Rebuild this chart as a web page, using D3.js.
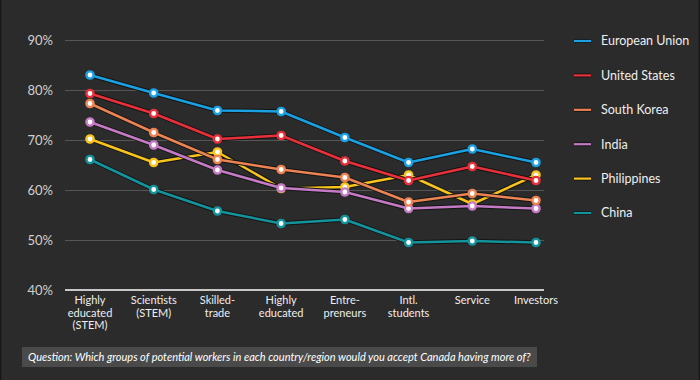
<!DOCTYPE html>
<html>
<head>
<meta charset="utf-8">
<script src="https://cdn.jsdelivr.net/npm/d3@7"></script>
<style>
  body { margin: 0; background: #2b2b2b; }
  svg { display: block; font-family: Lato, "Open Sans", sans-serif; }
</style>
</head>
<body>
<div id="chart"></div>
<script>
// Data
var categories = ["Highly educated (STEM)", "Scientists (STEM)", "Skilled-trade", "Highly educated",
    "Entre-preneurs", "Intl. students", "Service", "Investors"];
var categoryLines = [
    ["Highly", "educated", "(STEM)"],
    ["Scientists", "(STEM)"],
    ["Skilled-", "trade"],
    ["Highly", "educated"],
    ["Entre-", "preneurs"],
    ["Intl.", "students"],
    ["Service"],
    ["Investors"]
];
var seriesNames = ["European Union", "United States", "South Korea", "India", "Philippines", "China"];
var euValues = [83.0, 79.4, 75.9, 75.7, 70.5, 65.5, 68.2, 65.5];
var usValues = [79.3, 75.3, 70.2, 70.9, 65.8, 61.9, 64.7, 61.9];
var skValues = [77.3, 71.5, 66.1, 64.1, 62.5, 57.6, 59.3, 57.9];
var indiaValues = [73.6, 69.0, 64.0, 60.4, 59.6, 56.3, 56.8, 56.3];
var philValues = [70.2, 65.5, 67.6, 60.3, 60.6, 63.0, 57.2, 63.0];
var chinaValues = [66.1, 60.1, 55.8, 53.3, 54.1, 49.5, 49.8, 49.5];
var yTicks = [40, 50, 60, 70, 80, 90];
var question = "Question: Which groups of potential workers in each country/region would you accept Canada having more of?";

var colors = ["#1ba1e2", "#e8303a", "#ec8353", "#c47bc4", "#f8c31c", "#14939c"];
var allValues = [euValues, usValues, skValues, indiaValues, philValues, chinaValues];

var series = seriesNames.map(function(name, i) {
    return { name: name, color: colors[i], values: allValues[i] };
});

// Set up the chart
var svgWidth = 700;
var svgHeight = 380;

var svg = d3.select("#chart")
    .append("svg")
    .attr("width", svgWidth)
    .attr("height", svgHeight);

svg.append("rect")
    .attr("width", svgWidth)
    .attr("height", svgHeight)
    .attr("fill", "#2b2b2b");

// thin dark frame on the sides
svg.append("rect")
    .attr("x", 0.5).attr("y", -2)
    .attr("width", svgWidth - 1)
    .attr("height", svgHeight + 4)
    .attr("fill", "none")
    .attr("stroke", "#161616")
    .attr("stroke-width", 1.5);

var plotLeft = 65, plotRight = 544;

var xScale = d3.scalePoint()
    .domain(categories)
    .range([90, 536]);

var yScale = d3.scaleLinear()
    .domain([40, 90])
    .range([290, 40]);

// gridlines
var grid = svg.append("g")
    .attr("transform", "translate(" + plotLeft + ",0)")
    .call(d3.axisLeft(yScale).tickValues(yTicks).tickSize(-(plotRight - plotLeft)).tickFormat(""));
grid.select(".domain").remove();
grid.selectAll(".tick line").attr("stroke", "#555").attr("stroke-width", 1.2);

// y labels
svg.append("g")
    .selectAll("text")
    .data(yTicks)
    .enter()
    .append("text")
    .attr("x", 53)
    .attr("y", function(d) { return yScale(d); })
    .attr("dy", "0.35em")
    .attr("text-anchor", "end")
    .attr("fill", "#d0d0d0")
    .style("font-size", "13px")
    .text(function(d) { return d + "%"; });

// baseline
svg.append("line")
    .attr("x1", plotLeft).attr("x2", plotRight)
    .attr("y1", yScale(40)).attr("y2", yScale(40))
    .attr("stroke", "#c8c8c8")
    .attr("stroke-width", 2);

// x labels, one text per line
var xLabelGroups = svg.append("g")
    .selectAll("g")
    .data(categories)
    .enter()
    .append("g")
    .attr("transform", function(d) { return "translate(" + xScale(d) + ",0)"; });

xLabelGroups.selectAll("text")
    .data(function(d, i) { return categoryLines[i]; })
    .enter()
    .append("text")
    .attr("y", function(d, i) { return 304 + i * 12.5; })
    .attr("text-anchor", "middle")
    .attr("fill", "#eeeeee")
    .style("font-size", "11px")
    .text(function(d) { return d; });

// lines
var line = d3.line()
    .x(function(d, i) { return xScale(categories[i]); })
    .y(function(d) { return yScale(d); });

var drawOrder = series.slice().reverse();

var seriesGroup = svg.selectAll(".series")
    .data(drawOrder)
    .enter()
    .append("g")
    .attr("class", "series");

seriesGroup.append("path")
    .attr("d", function(d) { return line(d.values); })
    .attr("fill", "none")
    .attr("stroke", "#141414")
    .attr("stroke-width", 4.5)
    .attr("stroke-linejoin", "round");

seriesGroup.append("path")
    .attr("d", function(d) { return line(d.values); })
    .attr("fill", "none")
    .attr("stroke", function(d) { return d.color; })
    .attr("stroke-width", 2.5)
    .attr("stroke-linejoin", "round");

seriesGroup.selectAll("circle.dot")
    .data(function(d) { return d.values.map(function(v, i) { return { v: v, i: i, color: d.color }; }); })
    .enter()
    .append("circle")
    .attr("class", "dot")
    .attr("cx", function(d) { return xScale(categories[d.i]); })
    .attr("cy", function(d) { return yScale(d.v); })
    .attr("r", 3.6)
    .attr("fill", "#fff")
    .attr("stroke", function(d) { return d.color; })
    .attr("stroke-width", 2.4);

// legend
var legend = svg.append("g")
    .selectAll("g")
    .data(series)
    .enter()
    .append("g")
    .attr("transform", function(d, i) { return "translate(574," + (41 + i * 34.4) + ")"; });

legend.append("line")
    .attr("x1", 0).attr("x2", 17)
    .attr("stroke", "#141414")
    .attr("stroke-width", 4);

legend.append("line")
    .attr("x1", 0).attr("x2", 17)
    .attr("stroke", function(d) { return d.color; })
    .attr("stroke-width", 2.2);

legend.append("text")
    .attr("x", 27)
    .attr("dy", "0.35em")
    .attr("fill", "#eeeeee")
    .style("font-size", "12.5px")
    .text(function(d) { return d.name; });

// question footer
svg.append("rect")
    .attr("x", 22).attr("y", 347)
    .attr("width", 515).attr("height", 20)
    .attr("fill", "#4a4a4a");

svg.append("text")
    .attr("x", 28)
    .attr("y", 361)
    .attr("fill", "#ffffff")
    .style("font-size", "11px")
    .style("font-style", "italic")
    .text(question);
</script>
</body>
</html>
